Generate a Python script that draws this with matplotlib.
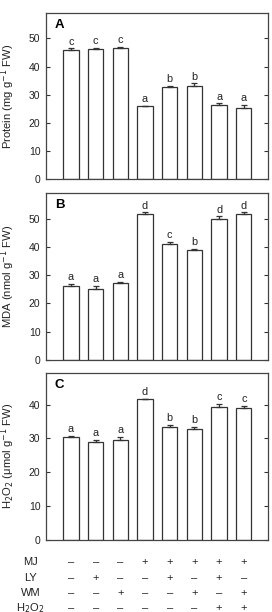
import matplotlib
matplotlib.use("Agg")
import matplotlib.pyplot as plt
import matplotlib.transforms as mtransforms
import numpy as np

plt.rcParams['font.family'] = ['Liberation Sans', 'DejaVu Sans']

protein = [45.8, 46.3, 46.6, 25.9, 32.8, 33.0, 26.3, 25.4]
protein_err = [0.7, 0.4, 0.4, 0.2, 0.4, 1.0, 0.6, 0.9]
protein_letters = ['c', 'c', 'c', 'a', 'b', 'b', 'a', 'a']

mda = [26.3, 25.2, 27.1, 51.5, 41.2, 39.0, 49.8, 51.6]
mda_err = [0.7, 1.0, 0.5, 0.8, 0.6, 0.3, 1.0, 0.7]
mda_letters = ['a', 'a', 'a', 'd', 'c', 'b', 'd', 'd']

h2o2 = [30.4, 29.0, 29.5, 41.5, 33.4, 32.7, 39.3, 38.9]
h2o2_err = [0.3, 0.6, 0.9, 0.2, 0.6, 0.8, 0.8, 0.8]
h2o2_letters = ['a', 'a', 'a', 'd', 'b', 'b', 'c', 'c']

row_labels = ['MJ', 'LY', 'WM', 'H$_2$O$_2$']
treatments = [
    ['–', '–', '–', '+', '+', '+', '+', '+'],
    ['–', '+', '–', '–', '+', '–', '+', '–'],
    ['–', '–', '+', '–', '–', '+', '–', '+'],
    ['–', '–', '–', '–', '–', '–', '+', '+'],
]

W, H = 272, 612
fig = plt.figure(figsize=(W / 100, H / 100), dpi=100)

def fy(px):
    return 1 - px / H

left = 46 / W
width = 222 / W
panels = [
    (13, 179.3, protein, protein_err, protein_letters, 'A', 'Protein (mg g$^{-1}$ FW)', 59, [0, 10, 20, 30, 40, 50]),
    (193.3, 360, mda, mda_err, mda_letters, 'B', 'MDA (nmol g$^{-1}$ FW)', 59, [0, 10, 20, 30, 40, 50]),
    (372.7, 540, h2o2, h2o2_err, h2o2_letters, 'C', 'H$_2$O$_2$ (μmol g$^{-1}$ FW)', 49.4, [0, 10, 20, 30, 40]),
]

x = np.arange(8)
edge = '#333333'
axes = []
for top, bot, vals, errs, letters, tag, ylabel, ymax, yt in panels:
    ax = fig.add_axes([left, fy(bot), width, (bot - top) / H])
    axes.append(ax)
    ax.bar(x, vals, width=0.62, color='white', edgecolor=edge, linewidth=0.9, zorder=2)
    ax.errorbar(x, vals, yerr=[np.zeros(8), errs], fmt='none', ecolor=edge,
                elinewidth=0.9, capsize=2.5, capthick=0.9, zorder=3)
    for xi, v, e, l in zip(x, vals, errs, letters):
        ax.text(xi, v + e + 0.6, l, ha='center', va='bottom', fontsize=7.8, color='#222222')
    ax.set_xlim(-1.01, 7.98)
    ax.set_ylim(0, ymax)
    ax.set_yticks(yt)
    ax.set_xticks([])
    ax.tick_params(axis='y', direction='in', length=3, width=0.8, labelsize=7.5,
                   right=True, pad=4, colors='#333333', labelcolor='#222222')
    for s in ax.spines.values():
        s.set_linewidth(0.9)
        s.set_color('#444444')
    ax.text(0.04, 0.965, tag, transform=ax.transAxes, ha='left', va='top',
            fontsize=9.5, fontweight='bold')
    ax.set_ylabel(ylabel, fontsize=8.1, color='#222222')
    lt = mtransforms.blended_transform_factory(fig.transFigure, ax.transAxes)
    ax.yaxis.set_label_coords(17.5 / W, 0.5, transform=lt)

axC = axes[-1]
trans = mtransforms.blended_transform_factory(axC.transData, fig.transFigure)
row_y = [562.3, 577.7, 593.0, 608.3]
for ry, lab, signs in zip(row_y, row_labels, treatments):
    fig.text(30.5 / W, fy(ry), lab, ha='center', va='center', fontsize=8, color='#222222')
    for xi, s in zip(x, signs):
        fig.text(xi, fy(ry), s, transform=trans, ha='center', va='center',
                 fontsize=8, color='#222222')

fig.savefig('out.png', dpi=100)
